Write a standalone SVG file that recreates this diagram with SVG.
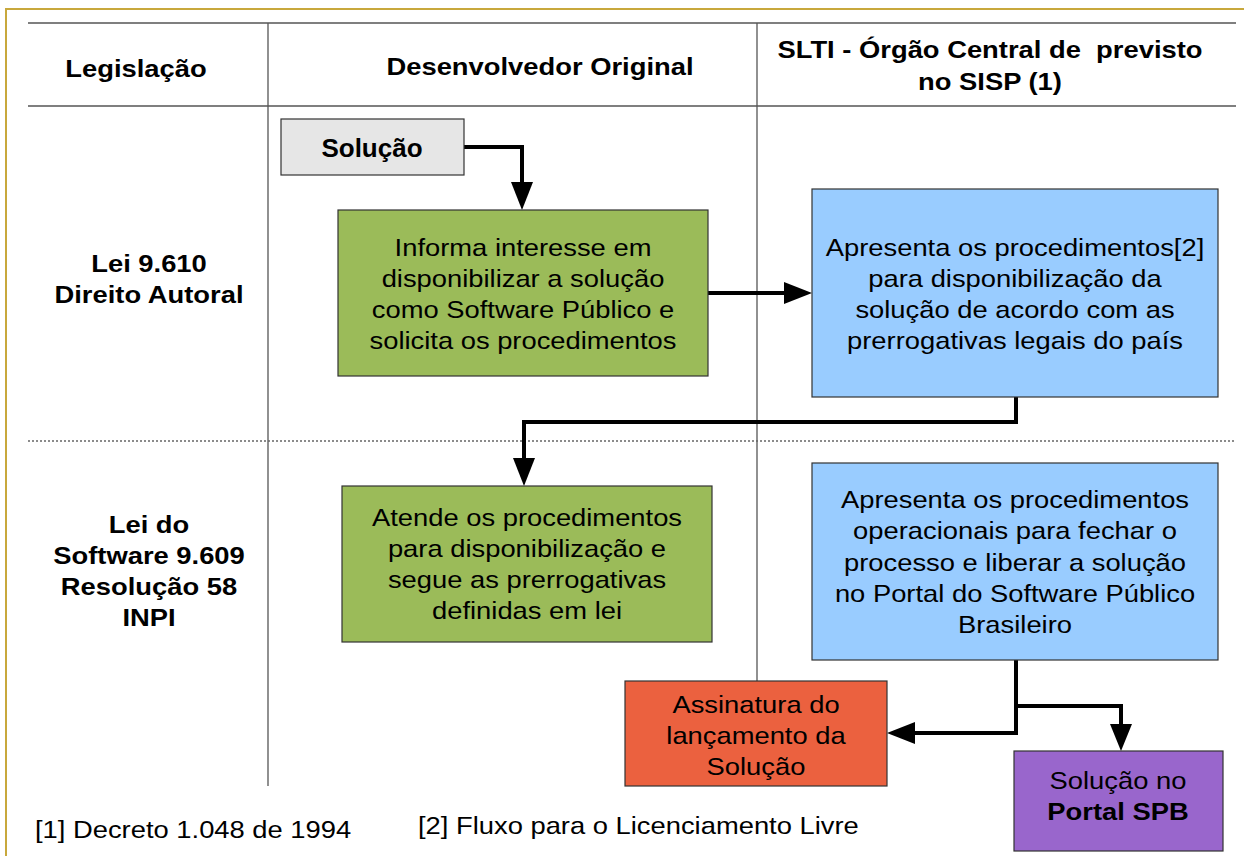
<svg xmlns="http://www.w3.org/2000/svg" width="1244" height="856" viewBox="0 0 1244 856">
<defs>
<style>
.t{font-family:"Liberation Sans",Arial,sans-serif;font-size:24px;fill:#000;text-anchor:middle}
.b{font-weight:bold;font-size:23px}
.s{text-anchor:start}
.box{stroke:#333;stroke-width:1.2}
.grid{stroke:#555;stroke-width:1.3;fill:none}
.conn{stroke:#000;stroke-width:4;fill:none}
</style>
</defs>
<rect width="1244" height="856" fill="#fff"/>
<path d="M6,856 V9 H1244" stroke="#c8a83c" stroke-width="2" fill="none"/>
<g id="grid">
<line class="grid" x1="28" y1="23" x2="1236" y2="23"/>
<line class="grid" x1="28" y1="106" x2="1236" y2="106"/>
<line class="grid" x1="268" y1="23" x2="268" y2="786"/>
<line class="grid" x1="757" y1="23" x2="757" y2="681"/>
<line x1="28" y1="441" x2="1236" y2="441" stroke="#666" stroke-width="1.3" stroke-dasharray="2,2"/>
</g>
<g id="headers">
<g transform="translate(136,0) scale(1.19,1)"><text class="t b" x="0" y="77">Legislação</text></g>
<g transform="translate(540,0) scale(1.19,1)"><text class="t b" x="0" y="75">Desenvolvedor Original</text></g>
<g transform="translate(990,0) scale(1.19,1)">
<text class="t b" x="0" y="58" xml:space="preserve">SLTI - Órgão Central de  previsto</text>
<text class="t b" x="0" y="90">no SISP (1)</text>
</g>
<g transform="translate(149,0) scale(1.19,1)">
<text class="t b" x="0" y="272">Lei 9.610</text>
<text class="t b" x="0" y="303">Direito Autoral</text>
<text class="t b" x="0" y="533">Lei do</text>
<text class="t b" x="0" y="564">Software 9.609</text>
<text class="t b" x="0" y="595">Resolução 58</text>
<text class="t b" x="0" y="626">INPI</text>
</g>
</g>
<g id="connectors">
<path class="conn" d="M464,147 H522 V182"/>
<path d="M511,182 L533,182 L522,210 Z"/>
<path class="conn" d="M708,293 H784"/>
<path d="M784,282 L812,293 L784,304 Z"/>
<path class="conn" d="M1016,397 V422 H524 V458"/>
<path d="M513,458 L535,458 L524,486 Z"/>
<path class="conn" d="M1016,660 V733 H915"/>
<path d="M915,722 L887,733 L915,744 Z"/>
<path class="conn" d="M1016,706 H1121 V724"/>
<path d="M1110,724 L1132,724 L1121,751 Z"/>
</g>
<g id="n-solucao">
<rect class="box" x="281" y="119" width="183" height="56" fill="#e6e6e6"/>
<text class="t" x="372" y="157" style="font-size:26px;font-weight:bold">Solução</text>
</g>
<g id="n-informa">
<rect class="box" x="338" y="210" width="370" height="166" fill="#9bbb59"/>
<g transform="translate(523,0) scale(1.14,1)">
<text class="t" x="0" y="256">Informa interesse em</text>
<text class="t" x="0" y="287">disponibilizar a solução</text>
<text class="t" x="0" y="318">como Software Público e</text>
<text class="t" x="0" y="349">solicita os procedimentos</text>
</g>
</g>
<g id="n-apresenta1">
<rect class="box" x="812" y="189" width="406" height="208" fill="#99ccff"/>
<g transform="translate(1015,0) scale(1.14,1)">
<text class="t" x="0" y="256">Apresenta os procedimentos[2]</text>
<text class="t" x="0" y="287">para disponibilização da</text>
<text class="t" x="0" y="318">solução de acordo com as</text>
<text class="t" x="0" y="349">prerrogativas legais do país</text>
</g>
</g>
<g id="n-atende">
<rect class="box" x="342" y="486" width="370" height="156" fill="#9bbb59"/>
<g transform="translate(527,0) scale(1.14,1)">
<text class="t" x="0" y="526">Atende os procedimentos</text>
<text class="t" x="0" y="557">para disponibilização e</text>
<text class="t" x="0" y="588">segue as prerrogativas</text>
<text class="t" x="0" y="619">definidas em lei</text>
</g>
</g>
<g id="n-apresenta2">
<rect class="box" x="812" y="463" width="406" height="197" fill="#99ccff"/>
<g transform="translate(1015,0) scale(1.14,1)">
<text class="t" x="0" y="508">Apresenta os procedimentos</text>
<text class="t" x="0" y="539">operacionais para fechar o</text>
<text class="t" x="0" y="571">processo e liberar a solução</text>
<text class="t" x="0" y="602">no Portal do Software Público</text>
<text class="t" x="0" y="633">Brasileiro</text>
</g>
</g>
<g id="n-assinatura">
<rect class="box" x="625" y="681" width="262" height="105" fill="#eb613f"/>
<g transform="translate(756,0) scale(1.14,1)">
<text class="t" x="0" y="713">Assinatura do</text>
<text class="t" x="0" y="744">lançamento da</text>
<text class="t" x="0" y="775">Solução</text>
</g>
</g>
<g id="n-portal">
<rect class="box" x="1014" y="751" width="209" height="100" fill="#9966cc"/>
<g transform="translate(1118,0) scale(1.14,1)">
<text class="t" x="0" y="789">Solução no</text>
<text class="t" x="0" y="820" style="font-weight:bold">Portal SPB</text>
</g>
</g>
<g id="notes">
<g transform="translate(35,0) scale(1.14,1)"><text class="t s" x="0" y="838">[1] Decreto 1.048 de 1994</text></g>
<g transform="translate(418,0) scale(1.14,1)"><text class="t s" x="0" y="834">[2] Fluxo para o Licenciamento Livre</text></g>
</g>
</svg>
